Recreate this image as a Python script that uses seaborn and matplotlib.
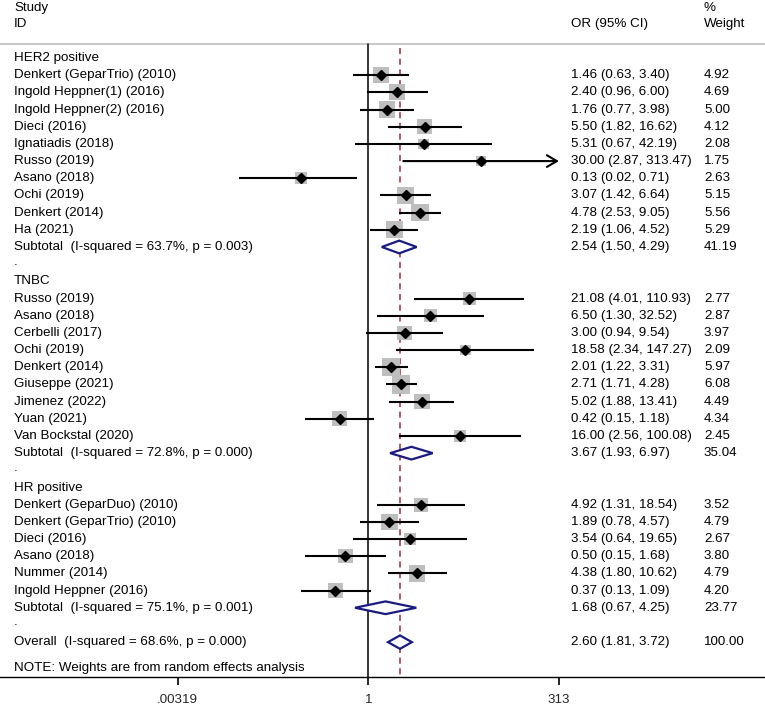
import numpy as np
import pandas as pd
import matplotlib
matplotlib.use("Agg")
import matplotlib.pyplot as plt
from matplotlib.patches import Polygon
import seaborn as sns

# ---- data ----
her2_names = ["Denkert (GeparTrio) (2010)", "Ingold Heppner(1) (2016)", "Ingold Heppner(2) (2016)",
              "Dieci (2016)", "Ignatiadis (2018)", "Russo (2019)", "Asano (2018)", "Ochi (2019)",
              "Denkert (2014)", "Ha (2021)"]
her2_or = [1.46, 2.40, 1.76, 5.50, 5.31, 30.00, 0.13, 3.07, 4.78, 2.19]
her2_lo = [0.63, 0.96, 0.77, 1.82, 0.67, 2.87, 0.02, 1.42, 2.53, 1.06]
her2_hi = [3.40, 6.00, 3.98, 16.62, 42.19, 313.47, 0.71, 6.64, 9.05, 4.52]
her2_w = [4.92, 4.69, 5.00, 4.12, 2.08, 1.75, 2.63, 5.15, 5.56, 5.29]

tnbc_names = ["Russo (2019)", "Asano (2018)", "Cerbelli (2017)", "Ochi (2019)", "Denkert (2014)",
              "Giuseppe (2021)", "Jimenez (2022)", "Yuan (2021)", "Van Bockstal (2020)"]
tnbc_or = [21.08, 6.50, 3.00, 18.58, 2.01, 2.71, 5.02, 0.42, 16.00]
tnbc_lo = [4.01, 1.30, 0.94, 2.34, 1.22, 1.71, 1.88, 0.15, 2.56]
tnbc_hi = [110.93, 32.52, 9.54, 147.27, 3.31, 4.28, 13.41, 1.18, 100.08]
tnbc_w = [2.77, 2.87, 3.97, 2.09, 5.97, 6.08, 4.49, 4.34, 2.45]

hr_names = ["Denkert (GeparDuo) (2010)", "Denkert (GeparTrio) (2010)", "Dieci (2016)", "Asano (2018)",
            "Nummer (2014)", "Ingold Heppner (2016)"]
hr_or = [4.92, 1.89, 3.54, 0.50, 4.38, 0.37]
hr_lo = [1.31, 0.78, 0.64, 0.15, 1.80, 0.13]
hr_hi = [18.54, 4.57, 19.65, 1.68, 10.62, 1.09]
hr_w = [3.52, 4.79, 2.67, 3.80, 4.79, 4.20]

group_names = ["HER2 positive", "TNBC", "HR positive"]
sub_or = [2.54, 3.67, 1.68]
sub_lo = [1.50, 1.93, 0.67]
sub_hi = [4.29, 6.97, 4.25]
sub_w = [41.19, 35.04, 23.77]
sub_i2 = [63.7, 72.8, 75.1]
sub_p = ["0.003", "0.000", "0.001"]

overall = (2.60, 1.81, 3.72)
overall_i2 = 68.6
overall_p = "0.000"

tick_vals = [0.00319, 1, 313]
tick_labels = [".00319", "1", "313"]

# ---- build rows ----
groups = [(her2_names, her2_or, her2_lo, her2_hi, her2_w),
          (tnbc_names, tnbc_or, tnbc_lo, tnbc_hi, tnbc_w),
          (hr_names, hr_or, hr_lo, hr_hi, hr_w)]

study_rows = []
sub_rows = []
head_rows = []
dot_rows = []
r = 0
for gname, (names, ors, los, his, ws) in zip(group_names, groups):
    head_rows.append((r, gname))
    r += 1
    for n, o, lo, hi, w in zip(names, ors, los, his, ws):
        study_rows.append({"row": r, "name": n, "or": o, "lo": lo, "hi": hi, "w": w})
        r += 1
    sub_rows.append(r)
    r += 1
    dot_rows.append(r)
    r += 1
overall_row = r
df = pd.DataFrame(study_rows)

# ---- figure ----
sns.set_theme(style="white")
plt.rcParams["font.family"] = ["Liberation Sans", "DejaVu Sans"]
fs = 9.65

fig = plt.figure(figsize=(7.65, 7.07), dpi=100)
ax = fig.add_axes([0, 30 / 707, 1, 677 / 707])
ax.set_xscale("log")
ax.set_xlim(np.exp(-368.3 / 33.17), np.exp((765 - 368.3) / 33.17))
ax.set_ylim(36.03, -3.376)

for s in ["top", "left", "right"]:
    ax.spines[s].set_visible(False)
ax.spines["bottom"].set_color("black")
ax.spines["bottom"].set_linewidth(1.0)
ax.set_yticks([])
ax.set_xticks(tick_vals)
ax.set_xticklabels(tick_labels)
ax.minorticks_off()
ax.tick_params(axis="x", direction="out", length=6, width=1.2, color="black",
               labelsize=fs, pad=6, bottom=True)

line_top = -0.815
# header rule
ax.plot([0, 1], [line_top, line_top], transform=ax.get_yaxis_transform(),
        color="#c4c4c4", lw=1.3, clip_on=False)
# null line and overall line
ax.plot([1, 1], [line_top, 36.03], color="black", lw=1.1)
ax.plot([overall[0], overall[0]], [-0.58, 36.03], color="#9e2a3a", lw=1.1,
        linestyle=(0, (4, 3)))

# weight boxes
k = 28.4
wmin, wmax = df["w"].min(), df["w"].max()
sns.scatterplot(data=df, x="or", y="row", size="w", sizes=(k * wmin, k * wmax),
                size_norm=(wmin, wmax), marker="s", color="#bebebe", edgecolor="none",
                legend=False, ax=ax, zorder=2)
ax.set_xlabel("")
ax.set_ylabel("")

# CI lines
xmax = 313.47
for _, row in df.iterrows():
    if row["hi"] >= xmax:
        ax.annotate("", xy=(row["hi"], row["row"]), xytext=(row["lo"], row["row"]),
                    arrowprops=dict(arrowstyle="->,head_length=0.6,head_width=0.35",
                                    color="black", lw=1.5, shrinkA=0, shrinkB=0),
                    zorder=3)
    else:
        ax.plot([row["lo"], row["hi"]], [row["row"], row["row"]], color="black", lw=1.5,
                zorder=3, solid_capstyle="butt")
ax.plot(df["or"], df["row"], linestyle="none", marker="D", markersize=5.5,
        color="black", zorder=4)

# diamonds
navy = "#1a1a80"
def diamond(est, lo, hi, yr, h=0.37):
    pts = [(lo, yr), (est, yr - h), (hi, yr), (est, yr + h)]
    ax.add_patch(Polygon(pts, closed=True, facecolor="white", edgecolor=navy,
                         lw=1.6, zorder=5))

for i, yr in enumerate(sub_rows):
    diamond(sub_or[i], sub_lo[i], sub_hi[i], yr)
diamond(overall[0], overall[1], overall[2], overall_row, h=0.39)

# ---- text columns ----
tr = ax.get_yaxis_transform()
xl, xo, xw = 14 / 765, 571 / 765, 704 / 765
txt = dict(transform=tr, fontsize=fs, va="center", ha="left", clip_on=False, color="black")

ax.text(xl, -2.93, "Study", **txt)
ax.text(xl, -1.96, "ID", **txt)
ax.text(xo, -1.96, "OR (95% CI)", **txt)
ax.text(xw, -2.93, "%", **txt)
ax.text(xw, -1.96, "Weight", **txt)

for yr, g in head_rows:
    ax.text(xl, yr, g, **txt)
for yr in dot_rows:
    ax.text(xl, yr - 0.15, ".", **txt)
for _, row in df.iterrows():
    ax.text(xl, row["row"], row["name"], **txt)
    ax.text(xo, row["row"], f"{row['or']:.2f} ({row['lo']:.2f}, {row['hi']:.2f})", **txt)
    ax.text(xw, row["row"], f"{row['w']:.2f}", **txt)
for i, yr in enumerate(sub_rows):
    ax.text(xl, yr, f"Subtotal  (I-squared = {sub_i2[i]:.1f}%, p = {sub_p[i]})", **txt)
    ax.text(xo, yr, f"{sub_or[i]:.2f} ({sub_lo[i]:.2f}, {sub_hi[i]:.2f})", **txt)
    ax.text(xw, yr, f"{sub_w[i]:.2f}", **txt)
ax.text(xl, overall_row, f"Overall  (I-squared = {overall_i2:.1f}%, p = {overall_p})", **txt)
ax.text(xo, overall_row, f"{overall[0]:.2f} ({overall[1]:.2f}, {overall[2]:.2f})", **txt)
ax.text(xw, overall_row, "100.00", **txt)
ax.text(xl, overall_row + 1.5, "NOTE: Weights are from random effects analysis", **txt)

fig.savefig("out.png", dpi=100)
